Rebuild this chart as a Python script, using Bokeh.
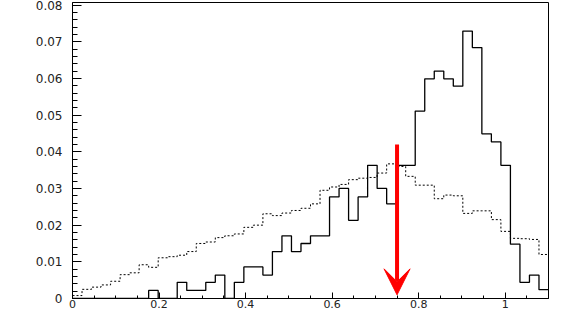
import numpy as np
from bokeh.plotting import figure
from bokeh.models import Arrow, VeeHead, FixedTicker, Range1d
from bokeh.embed import file_html
from bokeh.resources import INLINE

# ---- data ----
x_min, x_max, n_bins = 0.0, 1.1, 50

signal = [0, 0, 0, 0, 0, 0, 0, 0, 0.0022, 0,
          0, 0.0044, 0.0022, 0.0022, 0.0044, 0.0064, 0, 0.0044, 0.0086, 0.0086,
          0.0064, 0.0128, 0.0171, 0.0128, 0.0150, 0.0171, 0.0171, 0.0277, 0.0300, 0.0213,
          0.0277, 0.0363, 0.0300, 0.0258, 0.0363, 0.0363, 0.0511, 0.0599, 0.0620, 0.0599,
          0.0579, 0.0729, 0.0684, 0.0449, 0.0427, 0.0363, 0.0148, 0.0044, 0.0064, 0.0024]

background = [0.0008, 0.0025, 0.0031, 0.0037, 0.0047, 0.0065, 0.0070, 0.0092, 0.0085, 0.0111,
              0.0114, 0.0118, 0.0128, 0.0150, 0.0154, 0.0166, 0.0171, 0.0176, 0.0194, 0.0200,
              0.0231, 0.0226, 0.0233, 0.0240, 0.0246, 0.0258, 0.0295, 0.0304, 0.0311, 0.0324,
              0.0328, 0.0330, 0.0342, 0.0367, 0.0360, 0.0333, 0.0309, 0.0309, 0.0272, 0.0282,
              0.0280, 0.0232, 0.0239, 0.0239, 0.0215, 0.0183, 0.0164, 0.0163, 0.0161, 0.0120]

cut_x = 0.75
cut_top = 0.042
cut_bottom = 0.001

x_ticks = [0, 0.2, 0.4, 0.6, 0.8, 1.0]
x_tick_labels = ["0", "0.2", "0.4", "0.6", "0.8", "1"]
y_ticks = [0, 0.01, 0.02, 0.03, 0.04, 0.05, 0.06, 0.07, 0.08]
y_tick_labels = ["0", "0.01", "0.02", "0.03", "0.04", "0.05", "0.06", "0.07", "0.08"]

# ---- figure ----
p = figure(width=550, height=311, output_backend="svg", toolbar_location=None,
           x_range=Range1d(x_min, x_max), y_range=Range1d(0, 0.0807),
           min_border_left=72, min_border_right=2, min_border_top=2, min_border_bottom=13)
p.xgrid.visible = False
p.ygrid.visible = False
p.outline_line_color = "black"
p.outline_line_width = 1
p.background_fill_color = "white"
p.border_fill_color = "white"

edges = np.linspace(x_min, x_max, n_bins + 1)
sig = np.array(signal)
bkg = np.array(background)

p.step(x=edges, y=np.append(bkg, bkg[-1]), mode="after",
       line_color="black", line_width=1, line_dash="2 2")
p.step(x=edges, y=np.append(sig, sig[-1]), mode="after",
       line_color="black", line_width=1.3)

p.add_layout(Arrow(end=VeeHead(size=26, fill_color="red", line_color="red", line_width=1),
                   x_start=cut_x, y_start=cut_top, x_end=cut_x, y_end=cut_bottom,
                   line_color="red", line_width=4))

minor_x = [round(0.05 * i, 3) for i in range(0, 23)]
minor_y = [round(0.002 * i, 4) for i in range(0, 41)]
p.xaxis.ticker = FixedTicker(ticks=x_ticks, minor_ticks=minor_x)
p.yaxis.ticker = FixedTicker(ticks=y_ticks, minor_ticks=minor_y)
p.xaxis.major_label_overrides = {t: s for t, s in zip(x_ticks, x_tick_labels)}
p.yaxis.major_label_overrides = {t: s for t, s in zip(y_ticks, y_tick_labels)}

for ax in (p.xaxis, p.yaxis):
    ax.axis_line_color = "black"
    ax.axis_line_width = 1
    ax.major_tick_out = 0
    ax.minor_tick_out = 0
    ax.major_tick_line_color = "black"
    ax.minor_tick_line_color = "black"
    ax.major_label_text_font = "DejaVu Sans"
    ax.major_label_text_font_size = "12px"
    ax.major_label_text_color = "#222222"

p.xaxis.major_label_text_font_size = "11px"
p.xaxis.major_tick_in = 6
p.xaxis.minor_tick_in = 3
p.xaxis.major_label_standoff = 1
p.yaxis.major_tick_in = 9
p.yaxis.minor_tick_in = 5
p.yaxis.major_label_standoff = 10

open("out.html", "w").write(file_html(p, INLINE))
